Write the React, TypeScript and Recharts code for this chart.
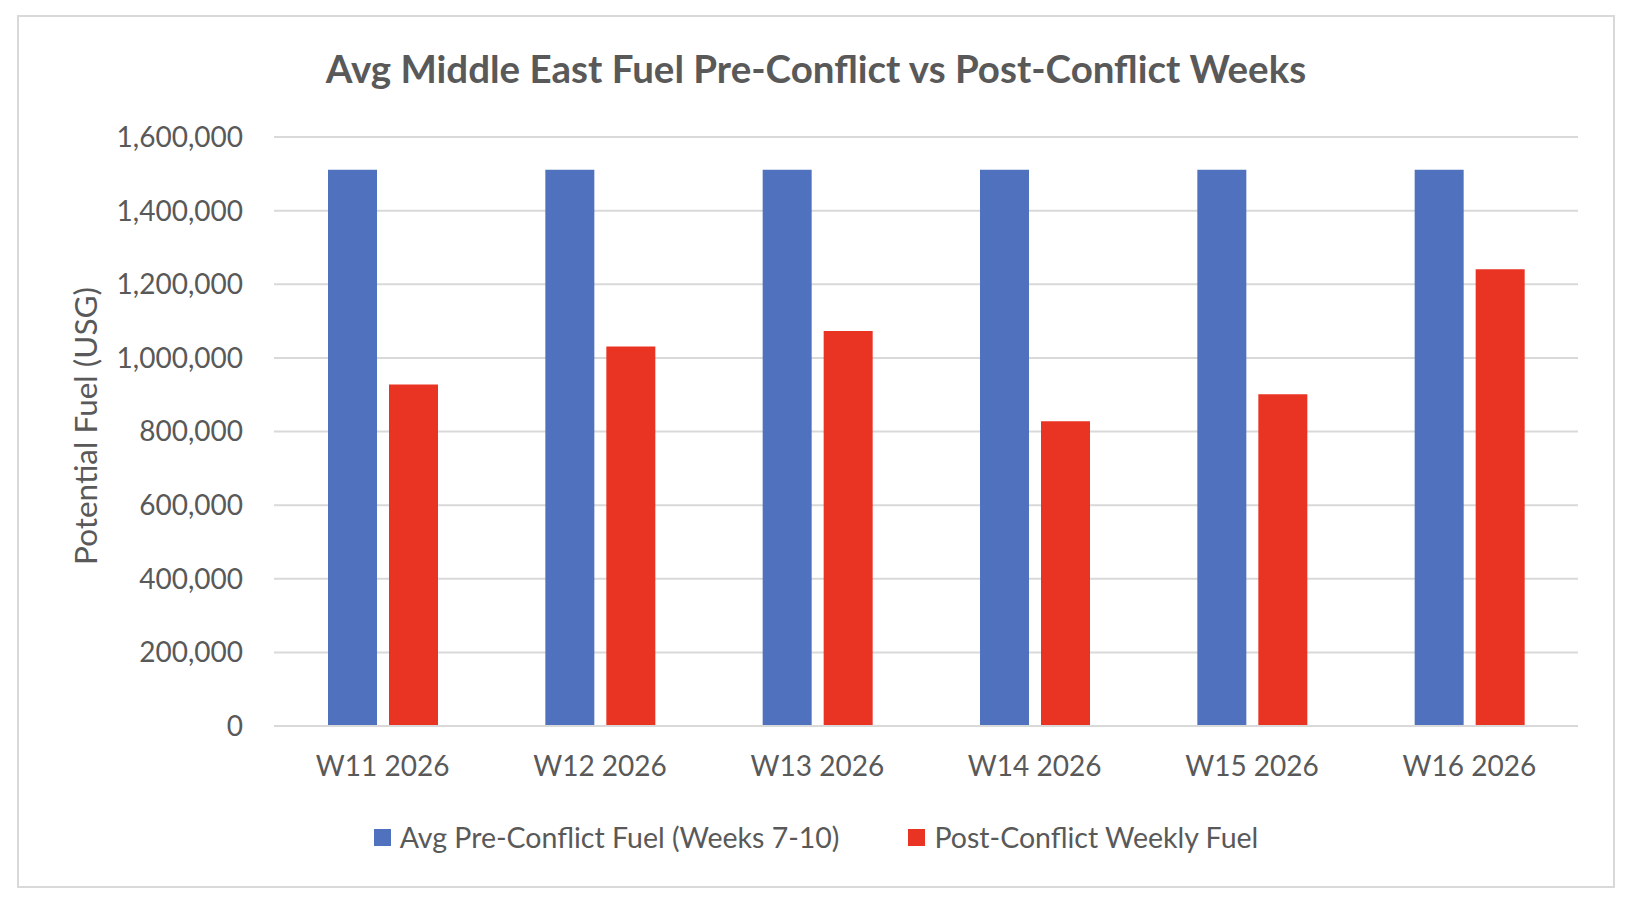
import React from "react"
import { BarChart, Bar, XAxis, YAxis, CartesianGrid, Legend } from "recharts"

const weeks = ["W11 2026", "W12 2026", "W13 2026", "W14 2026", "W15 2026", "W16 2026"]
const preConflict = [1511000, 1511000, 1511000, 1511000, 1511000, 1511000]
const postConflict = [928000, 1031000, 1073000, 828000, 901000, 1241000]
const yTicks = [0, 200000, 400000, 600000, 800000, 1000000, 1200000, 1400000, 1600000]

const seriesNames = ["Avg Pre-Conflict Fuel (Weeks 7-10)", "Post-Conflict Weekly Fuel"]
const BLUE = "#5072BE"
const RED = "#E93323"
const TEXT = "#595959"
const FONT = "Lato, 'Open Sans', sans-serif"

const data = weeks.map((week, i) => ({
  week,
  pre: preConflict[i],
  post: postConflict[i],
}))

function LegendContent() {
  const items = [
    { name: seriesNames[0], color: BLUE },
    { name: seriesNames[1], color: RED },
  ]
  return (
    <div
      style={{
        display: "flex",
        justifyContent: "center",
        alignItems: "center",
        gap: 69,
        fontFamily: FONT,
        fontSize: 28.5,
        color: TEXT,
      }}
    >
      {items.map((it) => (
        <div key={it.name} style={{ display: "flex", alignItems: "center" }}>
          <span
            style={{
              width: 17,
              height: 17,
              background: it.color,
              display: "inline-block",
              marginRight: 9,
            }}
          />
          <span>{it.name}</span>
        </div>
      ))}
    </div>
  )
}

export default function App() {
  return (
    <div style={{ position: "relative", width: 1640, height: 908, background: "#fff", margin: -8 }}>
      <div
        style={{
          position: "absolute",
          left: 17,
          top: 15,
          width: 1598,
          height: 873,
          border: "2px solid #d9d9d9",
          boxSizing: "border-box",
        }}
      />
      <div
        style={{
          position: "absolute",
          top: 45,
          left: 0,
          width: 1632,
          textAlign: "center",
          fontFamily: FONT,
          fontWeight: 700,
          fontSize: 38.5,
          lineHeight: 1.2,
          color: TEXT,
        }}
      >
        Avg Middle East Fuel Pre-Conflict vs Post-Conflict Weeks
      </div>
      <div
        style={{
          position: "absolute",
          left: 85,
          top: 426,
          transform: "translate(-50%, -50%) rotate(-90deg)",
          whiteSpace: "nowrap",
          fontFamily: FONT,
          fontSize: 31.5,
          color: TEXT,
        }}
      >
        Potential Fuel (USG)
      </div>
      <div style={{ position: "absolute", left: 0, top: 0 }}>
        <BarChart
          width={1640}
          height={908}
          data={data}
          margin={{ top: 137, right: 62, bottom: 152, left: 0 }}
          barSize={49}
          barGap={12}
        >
          <CartesianGrid vertical={false} stroke="#d9d9d9" strokeWidth={2} />
          <XAxis
            dataKey="week"
            axisLine={{ stroke: "#d9d9d9", strokeWidth: 2 }}
            tickLine={false}
            tickSize={0}
            tickMargin={30}
            tick={{ fill: TEXT, fontSize: 28, fontFamily: FONT }}
          />
          <YAxis
            width={274}
            domain={[0, 1600000]}
            ticks={yTicks}
            interval={0}
            axisLine={false}
            tickLine={false}
            tickSize={0}
            tickMargin={31}
            tickFormatter={(v: number) => v.toLocaleString("en-US")}
            tick={{ fill: TEXT, fontSize: 28, fontFamily: FONT }}
          />
          <Legend
            verticalAlign="bottom"
            content={<LegendContent />}
            wrapperStyle={{ top: 820, left: 0, width: 1632, height: 0, overflow: "visible", bottom: "auto" }}
          />
          <Bar dataKey="pre" name={seriesNames[0]} fill={BLUE} isAnimationActive={false} />
          <Bar dataKey="post" name={seriesNames[1]} fill={RED} isAnimationActive={false} />
        </BarChart>
      </div>
    </div>
  )
}
